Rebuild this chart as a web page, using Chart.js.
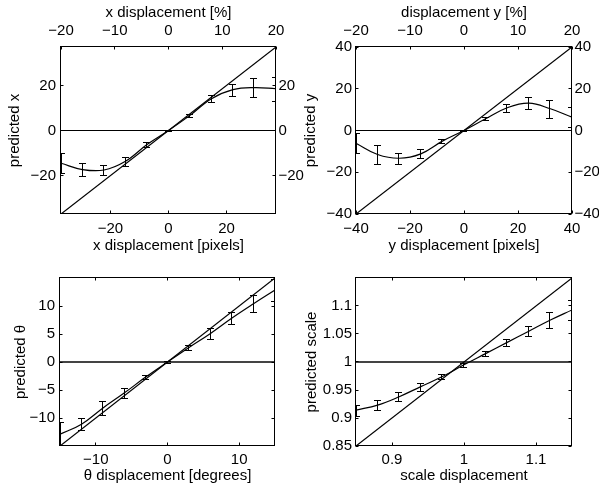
<!DOCTYPE html>
<html>
<head>
<meta charset="utf-8">
<script src="https://cdn.jsdelivr.net/npm/chart.js@4.4.1/dist/chart.umd.min.js"></script>
<style>
  html, body { margin: 0; padding: 0; background: #fff; }
  #wrap { position: relative; width: 599px; height: 491px; }
  #wrap canvas { position: absolute; left: 0; top: 0; }
</style>
</head>
<body>
<div id="wrap">
  <canvas id="panelX" width="599" height="491"></canvas>
  <canvas id="panelY" width="599" height="491"></canvas>
  <canvas id="panelTheta" width="599" height="491"></canvas>
  <canvas id="panelScale" width="599" height="491"></canvas>
</div>
<script>
// x displacement [pixels] vs predicted x
const xDisp = [-37, -29.6, -22.2, -14.8, -7.4, 0, 7.4, 14.8, 22.2, 29.6, 37];
const xPred = [-14.5, -17.3, -17.5, -13.6, -6.2, 0, 6.7, 14.1, 18.1, 19.0, 18.5];
const xErr = [4.5, 3, 2.2, 2, 1.1, 0.3, 0.8, 1.6, 2.6, 4.3, 5.3];
const xRange = [-37, 37];
const xTicks = [-20, 0, 20];

// y displacement [pixels] vs predicted y
const yDisp = [-40, -32, -24, -16, -8, 0, 8, 16, 24, 32, 40];
const yPred = [-6.1, -11.5, -13.3, -11.2, -5.1, 0, 5.6, 10.9, 13.1, 10.4, 6.4];
const yErr = [4.8, 4.4, 2.6, 2.2, 1, 0.3, 0.8, 2, 2.8, 4.2, 4.8];
const yRange = [-40, 40];
const yTicks = [-40, -20, 0, 20, 40];

// percent axes on top of the two upper panels
const pctRange = [-20, 20];
const pctTicks = [-20, -10, 0, 10, 20];

// theta displacement [degrees]
const thDisp = [-15, -12, -9, -6, -3, 0, 3, 6, 9, 12, 15];
const thPred = [-12.9, -11.1, -8.2, -5.5, -2.65, 0, 2.6, 5.1, 7.85, 10.4, 12.85];
const thErr = [2.1, 1.1, 1.25, 0.9, 0.4, 0.2, 0.4, 0.95, 1.1, 1.5, 2];
const thRange = [-15, 15];
const thXTicks = [-10, 0, 10];
const thYTicks = [-10, -5, 0, 5, 10];

// scale displacement
const scDisp = [0.85, 0.88, 0.91, 0.94, 0.97, 1.0, 1.03, 1.06, 1.09, 1.12, 1.15];
const scPred = [0.914, 0.923, 0.938, 0.956, 0.974, 0.995, 1.015, 1.035, 1.055, 1.075, 1.093];
const scErr = [0.01, 0.0095, 0.008, 0.007, 0.005, 0.004, 0.004, 0.006, 0.009, 0.014, 0.018];
const scRange = [0.85, 1.15];
const scXTicks = [0.9, 1, 1.1];
const scYTicks = [0.85, 0.9, 0.95, 1, 1.05, 1.1];

Chart.defaults.font.family = 'Liberation Sans, Arial, sans-serif';
Chart.defaults.font.size = 15;
Chart.defaults.color = '#000';

const fmt = (v) => String(v).replace('-', '\u2212');

// box around the plot plus small inward tick marks (matlab style)
const framePlugin = {
  id: 'frame',
  afterDraw(chart, args, opts) {
    const { ctx, chartArea: a } = chart;
    const L = a.left - 0.5, R = a.right - 0.5, T = a.top - 0.5, B = a.bottom - 0.5;
    const tl = 3;
    ctx.save();
    ctx.strokeStyle = '#000';
    ctx.lineWidth = 1;
    ctx.strokeRect(L, T, R - L, B - T);
    ctx.beginPath();
    Object.values(chart.scales).forEach((s) => {
      s.ticks.forEach((t) => {
        const p = Math.floor(s.getPixelForValue(t.value)) + 0.5;
        if (s.position === 'left' || s.position === 'right') {
          if (s.position === 'left' || opts.mirror) { ctx.moveTo(L, p); ctx.lineTo(L + tl, p); }
          if (s.position === 'right' || opts.mirror) { ctx.moveTo(R, p); ctx.lineTo(R - tl, p); }
        } else {
          if (s.position === 'bottom' || opts.mirror) { ctx.moveTo(p, B); ctx.lineTo(p, B - tl); }
          if (s.position === 'top' || opts.mirror) { ctx.moveTo(p, T); ctx.lineTo(p, T + tl); }
        }
      });
    });
    ctx.stroke();
    ctx.restore();
  }
};

const errorBarPlugin = {
  id: 'errorBars',
  afterDatasetsDraw(chart) {
    const { ctx, chartArea: a } = chart;
    const xs = chart.scales.x, ys = chart.scales.y;
    ctx.save();
    ctx.beginPath();
    ctx.rect(a.left - 1, a.top - 1, a.width + 1, a.height + 1);
    ctx.clip();
    ctx.strokeStyle = '#000';
    ctx.lineWidth = 1;
    chart.data.datasets.forEach((ds) => {
      if (!ds.errors) return;
      ds.data.forEach((pt, j) => {
        const e = ds.errors[j];
        let x = Math.floor(xs.getPixelForValue(pt.x) - 0.5) + 0.5;
        x = Math.min(Math.max(x, a.left + 0.5), a.right - 0.5);
        const y1 = Math.round(ys.getPixelForValue(pt.y - e)) + 0.5;
        const y2 = Math.round(ys.getPixelForValue(pt.y + e)) + 0.5;
        ctx.beginPath();
        ctx.moveTo(x, y1); ctx.lineTo(x, y2);
        ctx.moveTo(x - 3.5, y1); ctx.lineTo(x + 3.5, y1);
        ctx.moveTo(x - 3.5, y2); ctx.lineTo(x + 3.5, y2);
        ctx.stroke();
      });
    });
    ctx.restore();
  }
};

function axis(pos, range, ticks, size, tickPad, title, titlePad) {
  const horizontal = pos === 'top' || pos === 'bottom';
  return {
    type: 'linear',
    position: pos,
    min: range[0],
    max: range[1],
    grid: { display: false, drawTicks: false },
    border: { display: false },
    afterBuildTicks: (scale) => { scale.ticks = ticks.map((v) => ({ value: v })); },
    afterFit: (scale) => { if (horizontal) scale.height = size; else scale.width = size; },
    ticks: { padding: tickPad, callback: fmt, maxRotation: 0, minRotation: 0, autoSkip: false },
    title: title ? { display: true, text: title, padding: titlePad } : { display: false }
  };
}

function makePanel(id, p) {
  const pts = p.xs.map((x, i) => ({ x: x, y: p.ys[i] }));
  const diag = [{ x: p.xr[0], y: p.xr[0] }, { x: p.xr[1], y: p.xr[1] }];
  const ref = [{ x: p.xr[0], y: p.refY }, { x: p.xr[1], y: p.refY }];
  const scales = {
    x: axis('bottom', p.xr, p.xTicks, p.bottomH, p.bottomPad, p.xTitle, { top: 0, bottom: p.xTitlePad }),
    y: axis('left', p.yr, p.yTicks, p.leftW, p.leftPad, p.yTitle, { top: p.yTitlePad, bottom: 0 })
  };
  if (p.topTicks) {
    scales.x2 = axis('top', p.topRange, p.topTicks, p.topH, 6.8, p.topTitle, { top: 4.2, bottom: 0 });
    scales.y2 = axis('right', p.yr, p.yTicks, p.rightW, 2.5, null, null);
  }
  return new Chart(document.getElementById(id), {
    type: 'line',
    data: {
      datasets: [
        { data: pts, errors: p.errs, borderColor: '#000', borderWidth: 1.2, pointRadius: 0, tension: 0.4 },
        { data: diag, borderColor: '#000', borderWidth: 1.2, pointRadius: 0 },
        { data: ref, borderColor: p.refColor, borderWidth: p.refWidth, pointRadius: 0 }
      ]
    },
    options: {
      responsive: false,
      animation: false,
      devicePixelRatio: 1,
      events: [],
      layout: { padding: p.pad },
      plugins: { legend: { display: false }, tooltip: { enabled: false }, frame: { mirror: !p.topTicks } },
      scales: scales
    },
    plugins: [framePlugin, errorBarPlugin]
  });
}

makePanel('panelX', {
  xs: xDisp, ys: xPred, errs: xErr, xr: xRange, yr: xRange, refY: 0,
  xTicks: xTicks, yTicks: xTicks, topRange: pctRange, topTicks: pctTicks,
  xTitle: 'x displacement [pixels]', yTitle: 'predicted x', topTitle: 'x displacement [%]',
  leftW: 61, rightW: 30, topH: 47, bottomH: 45,
  leftPad: 5, bottomPad: 5.6, xTitlePad: 4.2, yTitlePad: 5.5,
  pad: { left: 0, right: 293, top: 0, bottom: 232 },
  refColor: '#000', refWidth: 1.2
});

makePanel('panelY', {
  xs: yDisp, ys: yPred, errs: yErr, xr: yRange, yr: yRange, refY: 0,
  xTicks: yTicks, yTicks: yTicks, topRange: pctRange, topTicks: pctTicks,
  xTitle: 'y displacement [pixels]', yTitle: 'predicted y', topTitle: 'displacement y [%]',
  leftW: 57, rightW: 27, topH: 47, bottomH: 45,
  leftPad: 4, bottomPad: 5.6, xTitlePad: 4.2, yTitlePad: 2.5,
  pad: { left: 299, right: 0, top: 0, bottom: 232 },
  refColor: '#000', refWidth: 1.2
});

makePanel('panelTheta', {
  xs: thDisp, ys: thPred, errs: thErr, xr: thRange, yr: thRange, refY: 0,
  xTicks: thXTicks, yTicks: thYTicks,
  xTitle: '\u03b8 displacement [degrees]', yTitle: 'predicted \u03b8',
  leftW: 60, bottomH: 45,
  leftPad: 5, bottomPad: 5, xTitlePad: 6.5, yTitlePad: 11.5,
  pad: { left: 0, right: 324, top: 278, bottom: 0 },
  refColor: '#444', refWidth: 2
});

makePanel('panelScale', {
  xs: scDisp, ys: scPred, errs: scErr, xr: scRange, yr: scRange, refY: 1,
  xTicks: scXTicks, yTicks: scYTicks,
  xTitle: 'scale displacement', yTitle: 'predicted scale',
  leftW: 57, bottomH: 45,
  leftPad: 4, bottomPad: 5, xTitlePad: 6.5, yTitlePad: 3.5,
  pad: { left: 299, right: 27, top: 278, bottom: 0 },
  refColor: '#444', refWidth: 2
});
</script>
</body>
</html>
